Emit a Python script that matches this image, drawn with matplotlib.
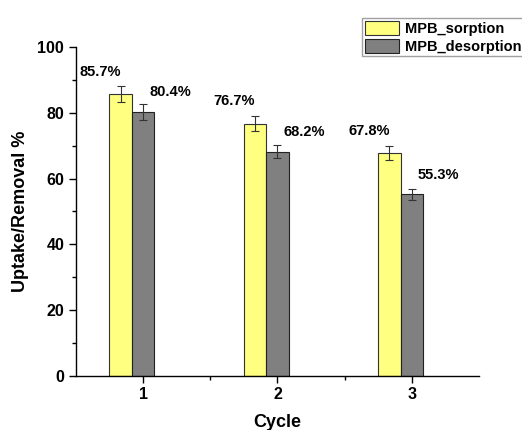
import matplotlib
matplotlib.use("Agg")
import matplotlib.pyplot as plt
from matplotlib.ticker import MultipleLocator, FixedLocator
import numpy as np

plt.rcParams['font.family'] = ['Liberation Sans', 'DejaVu Sans']
plt.rcParams['font.weight'] = 'bold'

cycles = [1, 2, 3]
sorption = [85.7, 76.7, 67.8]
desorption = [80.4, 68.2, 55.3]
sorption_err = [2.5, 2.3, 2.1]
desorption_err = [2.4, 2.0, 1.7]
series_names = ["MPB_sorption", "MPB_desorption"]

fig = plt.figure(figsize=(5.22, 4.30), dpi=100)
ax = fig.add_axes([0.1456, 0.1263, 0.772, 0.7637])

x = np.array(cycles, dtype=float)
w = 0.168

ax.bar(x - w, sorption, w, color="#FFFF80", edgecolor="#333333", linewidth=0.8,
       label=series_names[0], zorder=2)
ax.bar(x, desorption, w, color="#808080", edgecolor="#222222", linewidth=0.8,
       label=series_names[1], zorder=2)
ax.errorbar(x - w, sorption, yerr=sorption_err, fmt="none", ecolor="#333333",
            elinewidth=0.8, capsize=3, capthick=0.8, zorder=3)
ax.errorbar(x, desorption, yerr=desorption_err, fmt="none", ecolor="#333333",
            elinewidth=0.8, capsize=3, capthick=0.8, zorder=3)

for xi, v in zip(x, sorption):
    ax.text(xi - 0.32, v + 6.8, f"{v}%", ha="center", va="center",
            fontsize=10.5, fontweight="bold")
for xi, v in zip(x, desorption):
    ax.text(xi + 0.2, v + 5.9, f"{v}%", ha="center", va="center",
            fontsize=10.5, fontweight="bold")

ax.set_xlim(0.5, 3.5)
ax.set_ylim(0, 100)
ax.set_xticks(cycles)
ax.xaxis.set_minor_locator(FixedLocator([1.5, 2.5]))
ax.yaxis.set_major_locator(MultipleLocator(20))
ax.yaxis.set_minor_locator(MultipleLocator(10))
ax.tick_params(axis="both", which="major", direction="out", length=5, width=1,
               labelsize=11.5)
ax.tick_params(axis="both", which="minor", direction="out", length=3, width=1)
for lab in ax.get_xticklabels() + ax.get_yticklabels():
    lab.set_fontweight("bold")

ax.spines["top"].set_visible(False)
ax.spines["right"].set_visible(False)
ax.spines["left"].set_linewidth(1)
ax.spines["bottom"].set_linewidth(1)

ax.set_xlabel("Cycle", fontsize=13, fontweight="bold", labelpad=8)
ax.set_ylabel("Uptake/Removal %", fontsize=13, fontweight="bold", labelpad=6)

leg = fig.legend(loc="upper right", bbox_to_anchor=(1.004, 0.957),
                 bbox_transform=fig.transFigure, frameon=True, fancybox=False,
                 fontsize=10.5, handlelength=2.3, handleheight=1.1,
                 handletextpad=0.4, borderpad=0.2, labelspacing=0.15,
                 borderaxespad=0)
leg.get_frame().set_edgecolor("#888888")
leg.get_frame().set_linewidth(1)
for t in leg.get_texts():
    t.set_fontweight("bold")

fig.savefig("out.png", dpi=100)
